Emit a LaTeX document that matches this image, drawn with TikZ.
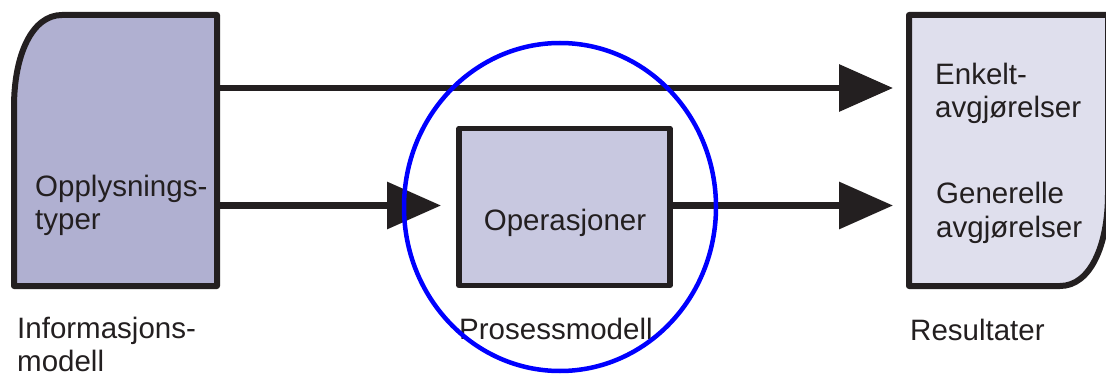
\documentclass[tikz,border=0pt]{standalone}
\usepackage{fontspec}
\setmainfont{Liberation Sans}
\usetikzlibrary{arrows.meta,shapes.geometric}
\definecolor{ink}{HTML}{231F20}
\definecolor{leftfill}{HTML}{B0B0D1}
\definecolor{midfill}{HTML}{C8C8E0}
\definecolor{rightfill}{HTML}{DFDFED}
\definecolor{ringblue}{HTML}{0000FF}
\tikzset{
  shapeline/.style={draw=ink, line width=6pt, line join=round},
  holder/.style={draw=none, inner sep=0pt, outer sep=0pt, rectangle},
  lbl/.style={text=ink, inner sep=0pt, font=\fontsize{29.5}{33}\selectfont, align=left},
  flow/.style={draw=ink, line width=6.5pt, -{Triangle[length=54pt, width=46pt]}},
}
\begin{document}
\begin{tikzpicture}[x=1pt, y=-1pt]
\useasboundingbox (0,0) rectangle (1106,374);
% holders for the two outline shapes
\node[holder, minimum width=203pt, minimum height=271pt] (L) at (115.5,150.5) {};
\node[holder, minimum width=199pt, minimum height=271pt] (R) at (1008.5,150.5) {};
% left shape (rounded top-left)
\path[shapeline, fill=leftfill]
  (L.south west) -- ([yshift=-92pt]L.north west)
  .. controls ([yshift=-40pt]L.north west) and ([xshift=18pt]L.north west) .. ([xshift=48pt]L.north west)
  -- (L.north east) -- (L.south east) -- cycle;
% right shape (rounded bottom-right)
\path[shapeline, fill=rightfill]
  (R.north west) -- (R.north east) -- ([yshift=92pt]R.south east)
  .. controls ([yshift=40pt]R.south east) and ([xshift=-18pt]R.south east) .. ([xshift=-48pt]R.south east)
  -- (R.south west) -- cycle;
% middle box
\node[shapeline, line width=5.5pt, fill=midfill, rectangle, inner sep=0pt, outer sep=0pt,
      minimum width=211pt, minimum height=157pt] (M) at (564.5,207) {};
% connectors
\coordinate (la) at (217,88);
\coordinate (lb) at (217,205.5);
\draw[flow, shorten >=16pt] (la) -- (la -| R.west);
\draw[flow, shorten >=18pt] (lb) -- (lb -| M.west);
\draw[flow, shorten >=16pt] (lb -| M.east) -- (lb -| R.west);
% texts (base anchor of a two-line node is the last line)
\node[lbl, anchor=base west] (t1) at (35,230) {Opplysnings-\\typer};
\node[lbl, anchor=base west] (t2) at (17,371.5) {Informasjons-\\modell};
\node[lbl, anchor=base] (t3) at (565,231) {Operasjoner};
\node[lbl, anchor=base west] (t4) at (459,339) {Prosessmodell};
\node[lbl, anchor=base west] (t5) at (935,118) {Enkelt-\\avgjørelser};
\node[lbl, anchor=base west] (t6) at (936,237) {Generelle\\avgjørelser};
\node[lbl, anchor=base west] (t7) at (910,340) {Resultater};
% blue ring
\node[draw=ringblue, line width=4.5pt, ellipse, minimum width=312pt, minimum height=328pt, inner sep=0pt] (ring) at (560,207) {};
\end{tikzpicture}
\end{document}
